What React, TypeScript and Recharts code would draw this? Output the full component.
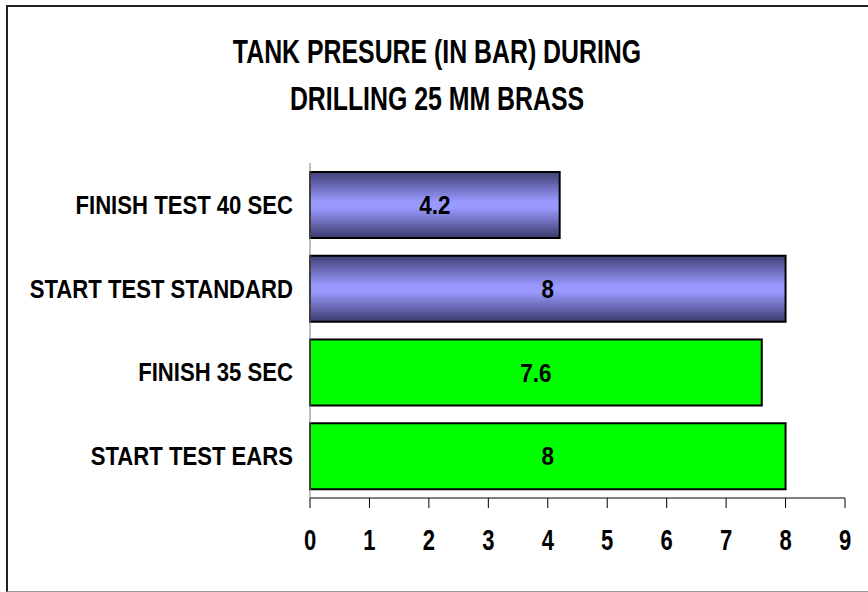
import { BarChart, Bar, XAxis, YAxis, Cell, LabelList } from 'recharts';

const categories = ['FINISH TEST 40 SEC', 'START TEST STANDARD', 'FINISH 35 SEC', 'START TEST EARS'];
const pressures = [4.2, 8, 7.6, 8];
const groups = ['standard', 'standard', 'ears', 'ears'];
const xTicks = [0, 1, 2, 3, 4, 5, 6, 7, 8, 9];

// no Arial Narrow here, so squeeze Liberation Sans bold horizontally
const FONT = '"Liberation Sans", Arial, sans-serif';

const groupFill: Record<string, string> = {
    standard: 'url(#blueBar)',
    ears: '#00ff00',
};

const chartData = categories.map((name, i) => ({ name, value: pressures[i], group: groups[i] }));

const NarrowText = ({ x, y, anchor, dy, size, squeeze, children }: any) => (
    <g transform={`translate(${x},${y})`}>
        <text
            transform={`scale(${squeeze},1)`}
            textAnchor={anchor}
            dy={dy}
            fill="#000"
            fontSize={size}
            fontWeight={700}
            fontFamily={FONT}
        >
            {children}
        </text>
    </g>
);

const YTick = ({ x, y, payload }: any) => (
    <NarrowText x={x} y={y} anchor="end" dy="0.36em" size={25} squeeze={0.885}>{payload.value}</NarrowText>
);

const XTick = ({ x, y, payload }: any) => (
    <NarrowText x={x} y={y} anchor="middle" dy="0.73em" size={29} squeeze={0.76}>{payload.value}</NarrowText>
);

const BarValue = ({ x, y, width, height, value }: any) => (
    <NarrowText x={x + width / 2} y={y + height / 2} anchor="middle" dy="0.36em" size={25.5} squeeze={0.88}>{value}</NarrowText>
);

const App = () => {
    return (
        <div style={{ position: 'absolute', left: 0, top: 0, width: 868, height: 592, background: '#fff', fontFamily: FONT, overflow: 'hidden' }}>
            <div style={{ position: 'absolute', left: 6, top: 5, width: 880, height: 587, borderTop: '2px solid #222', borderLeft: '2px solid #222', borderBottom: '1px solid #999', boxSizing: 'border-box' }} />
            <div
                style={{
                    position: 'absolute', left: 0, top: 28, width: 874, textAlign: 'center',
                    fontWeight: 700, fontSize: 33.5, lineHeight: '47px', color: '#000',
                    transform: 'scaleX(0.742)', transformOrigin: '437px 0',
                }}
            >
                <div>TANK PRESURE (IN BAR) DURING</div>
                <div>DRILLING 25 MM BRASS</div>
            </div>
            <div style={{ position: 'absolute', left: 0, top: 0 }}>
                <BarChart
                    width={868}
                    height={592}
                    data={chartData}
                    layout="vertical"
                    margin={{ top: 163, right: 23, left: 0, bottom: 54 }}
                    barCategoryGap="10.6%"
                >
                    <defs>
                        <linearGradient id="blueBar" x1="0" y1="0" x2="0" y2="1">
                            <stop offset="0%" stopColor="#3f3f75" />
                            <stop offset="45%" stopColor="#9999ff" />
                            <stop offset="55%" stopColor="#9999ff" />
                            <stop offset="100%" stopColor="#3b3b6c" />
                        </linearGradient>
                    </defs>
                    <XAxis
                        type="number"
                        domain={[0, 9]}
                        ticks={xTicks}
                        interval={0}
                        height={40}
                        stroke="#000"
                        tickSize={10}
                        tickMargin={21}
                        tick={<XTick />}
                    />
                    <YAxis
                        type="category"
                        dataKey="name"
                        width={310}
                        axisLine={{ stroke: '#808080' }}
                        tickLine={false}
                        tickSize={8}
                        tickMargin={9}
                        tick={<YTick />}
                    />
                    <Bar dataKey="value" stroke="#000" strokeWidth={2} isAnimationActive={false}>
                        {chartData.map((d, i) => (
                            <Cell key={i} fill={groupFill[d.group]} />
                        ))}
                        <LabelList dataKey="value" content={<BarValue />} />
                    </Bar>
                </BarChart>
            </div>
        </div>
    );
};

export default App;
